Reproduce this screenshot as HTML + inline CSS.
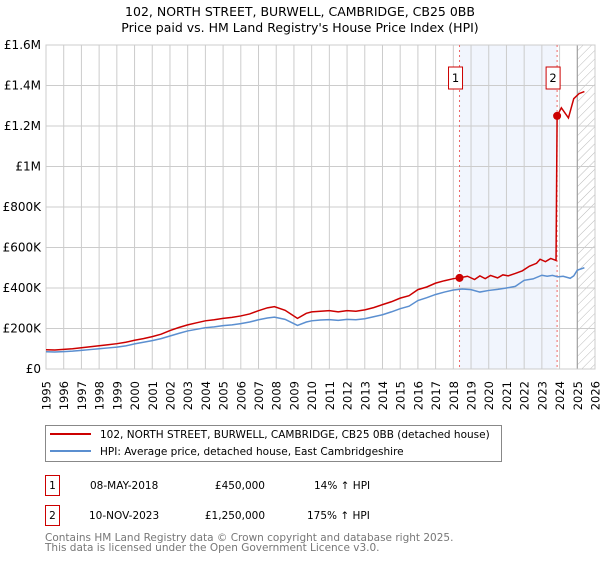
<!DOCTYPE html>
<html><head><meta charset="utf-8"><style>
body{margin:0;background:#fff;font-family:"DejaVu Sans","Liberation Sans",sans-serif;}
</style></head><body>
<svg width="600" height="560" xmlns="http://www.w3.org/2000/svg" font-family="DejaVu Sans, Liberation Sans, sans-serif">
<defs><pattern id="hatch" width="6" height="6" patternUnits="userSpaceOnUse" patternTransform="rotate(45)"><line x1="0" y1="0" x2="0" y2="6" stroke="#bbb" stroke-width="1"/></pattern></defs>
<text x="300" y="16" text-anchor="middle" font-size="12.5">102, NORTH STREET, BURWELL, CAMBRIDGE, CB25 0BB</text>
<text x="300" y="32" text-anchor="middle" font-size="12.5">Price paid vs. HM Land Registry's House Price Index (HPI)</text>
<g id="plot"></g>
<rect x="45.5" y="425.5" width="456" height="36" fill="#fff" stroke="#888"/>
<line x1="50" y1="434" x2="91" y2="434" stroke="#cc0000" stroke-width="2"/>
<text x="100" y="438" font-size="10.5">102, NORTH STREET, BURWELL, CAMBRIDGE, CB25 0BB (detached house)</text>
<line x1="50" y1="451" x2="91" y2="451" stroke="#5b8fd0" stroke-width="2"/>
<text x="100" y="455" font-size="10.5">HPI: Average price, detached house, East Cambridgeshire</text>
<g font-size="10.5">
<rect x="45.5" y="475.5" width="14" height="20" fill="#fff" stroke="#cc0000"/>
<text x="52.5" y="489" text-anchor="middle">1</text>
<text x="90" y="489">08-MAY-2018</text>
<text x="265" y="489" text-anchor="end">£450,000</text>
<text x="314" y="489">14% ↑ HPI</text>
<rect x="45.5" y="505.5" width="14" height="20" fill="#fff" stroke="#cc0000"/>
<text x="52.5" y="519" text-anchor="middle">2</text>
<text x="89" y="519">10-NOV-2023</text>
<text x="265" y="519" text-anchor="end">£1,250,000</text>
<text x="307" y="519">175% ↑ HPI</text>
</g>
<text x="45" y="541" font-size="10.5" fill="#777">Contains HM Land Registry data © Crown copyright and database right 2025.</text>
<text x="45" y="551" font-size="10.5" fill="#777">This data is licensed under the Open Government Licence v3.0.</text>
</svg>
<script>
const hpiYears=[1995,1995.5,1996,1996.5,1997,1997.5,1998,1998.5,1999,1999.5,2000,2000.5,2001,2001.5,2002,2002.5,2003,2003.5,2004,2004.5,2005,2005.5,2006,2006.5,2007,2007.5,2007.9,2008.5,2009.2,2009.7,2010,2010.5,2011,2011.5,2012,2012.5,2013,2013.5,2014,2014.5,2015,2015.5,2016,2016.5,2017,2017.5,2018,2018.5,2019,2019.5,2020,2020.5,2021,2021.5,2022,2022.5,2023,2023.3,2023.6,2023.9,2024.2,2024.6,2024.8,2025,2025.4];
const hpiValues=[85,84,86,88,92,96,100,104,108,114,124,132,140,150,163,176,188,196,204,208,214,218,224,232,243,252,256,245,215,232,238,242,244,240,245,243,248,258,268,282,298,310,338,352,368,380,390,395,392,380,388,393,400,408,438,445,463,458,462,455,458,448,460,488,500];
const redYears=[1995,1995.5,1996,1996.5,1997,1997.5,1998,1998.5,1999,1999.5,2000,2000.5,2001,2001.5,2002,2002.5,2003,2003.5,2004,2004.5,2005,2005.5,2006,2006.5,2007,2007.5,2007.9,2008.5,2009.2,2009.7,2010,2010.5,2011,2011.5,2012,2012.5,2013,2013.5,2014,2014.5,2015,2015.5,2016,2016.5,2017,2017.5,2018,2018.35,2018.8,2019.2,2019.5,2019.8,2020.1,2020.5,2020.8,2021.1,2021.5,2021.9,2022.3,2022.7,2022.9,2023.2,2023.5,2023.8,2023.86,2024.1,2024.5,2024.8,2025.1,2025.4];
const redValues=[95,94,97,100,105,110,115,120,125,132,142,150,160,172,190,205,218,228,238,243,250,255,262,272,288,302,308,290,250,275,282,285,288,282,288,285,292,303,318,332,350,362,392,405,424,436,446,450,458,442,460,446,462,450,465,460,472,485,508,522,542,530,546,536,1250,1290,1240,1335,1360,1370];
const ticksY=[0,200,400,600,800,1000,1200,1400,1600];
const tickYLabels=["£0","£200K","£400K","£600K","£800K","£1M","£1.2M","£1.4M","£1.6M"];
const ticksX=[1995,1996,1997,1998,1999,2000,2001,2002,2003,2004,2005,2006,2007,2008,2009,2010,2011,2012,2013,2014,2015,2016,2017,2018,2019,2020,2021,2022,2023,2024,2025,2026];
const saleYears=[2018.35,2023.86];
const saleValues=[450,1250];
const saleLabels=["1","2"];

const X0=46,X1=595,Y0=369,Y1=45;
const sx=y=>X0+(y-1995)*(X1-X0)/31;
const sy=v=>Y0-v*(Y0-Y1)/1600;
const NS="http://www.w3.org/2000/svg";
const g=document.getElementById('plot');
function mk(t,a){const e=document.createElementNS(NS,t);for(const k in a)e.setAttribute(k,a[k]);g.appendChild(e);return e;}
let e;
e=mk('rect',{x:sx(saleYears[0]),y:Y1,width:sx(saleYears[1])-sx(saleYears[0]),height:Y0-Y1,fill:'#eef3fd',opacity:0.8});


e=mk('rect',{x:sx(2025),y:Y1,width:X1-sx(2025),height:Y0-Y1,fill:'url(#hatch)'});


ticksX.forEach(t=>{
  e=mk('line',{x1:sx(t),x2:sx(t),y1:Y1,y2:Y0,stroke:'#ccc','stroke-width':1});
  
  
  const tx=sx(t)+4.5, ty=Y0+12;
  e=mk('text',{x:tx,y:ty,'font-size':11.5,'text-anchor':'end',transform:'rotate(-90 '+tx+' '+ty+')'});
  e.textContent=t;
  
  
});
ticksY.forEach((t,i)=>{
  e=mk('line',{x1:X0,x2:X1,y1:sy(t),y2:sy(t),stroke:'#ccc','stroke-width':1});
  
  
  e=mk('text',{x:X0-5,y:sy(t)+4,'font-size':12,'text-anchor':'end'});
  e.textContent=tickYLabels[i];
  
  
});
e=mk('line',{x1:sx(2025),x2:sx(2025),y1:Y1,y2:Y0,stroke:'#999','stroke-width':1});


e=mk('rect',{x:X0,y:Y1,width:X1-X0,height:Y0-Y1,fill:'none',stroke:'#ccc'});


saleYears.forEach((s,i)=>{
  e=mk('line',{x1:sx(s),x2:sx(s),y1:Y1,y2:Y0,stroke:'#ee6666','stroke-width':1,'stroke-dasharray':'2,3'});
  
  
});
e=mk('polyline',{points:hpiYears.map((y,i)=>sx(y)+','+sy(hpiValues[i])).join(' '),fill:'none',stroke:'#5b8fd0','stroke-width':1.5});


e=mk('polyline',{points:redYears.map((y,i)=>sx(y)+','+sy(redValues[i])).join(' '),fill:'none',stroke:'#cc0000','stroke-width':1.5});


saleYears.forEach((s,i)=>{
  e=mk('circle',{cx:sx(s),cy:sy(saleValues[i]),r:4,fill:'#cc0000'});
  
  
  const bx=sx(s)-4;
  e=mk('rect',{x:bx-7,y:67,width:14,height:22,fill:'#fff',stroke:'#cc0000'});
  
  
  e=mk('text',{x:bx,y:82,'font-size':11.5,'text-anchor':'middle'});
  e.textContent=saleLabels[i];
  
  
});
</script>
</body></html>
